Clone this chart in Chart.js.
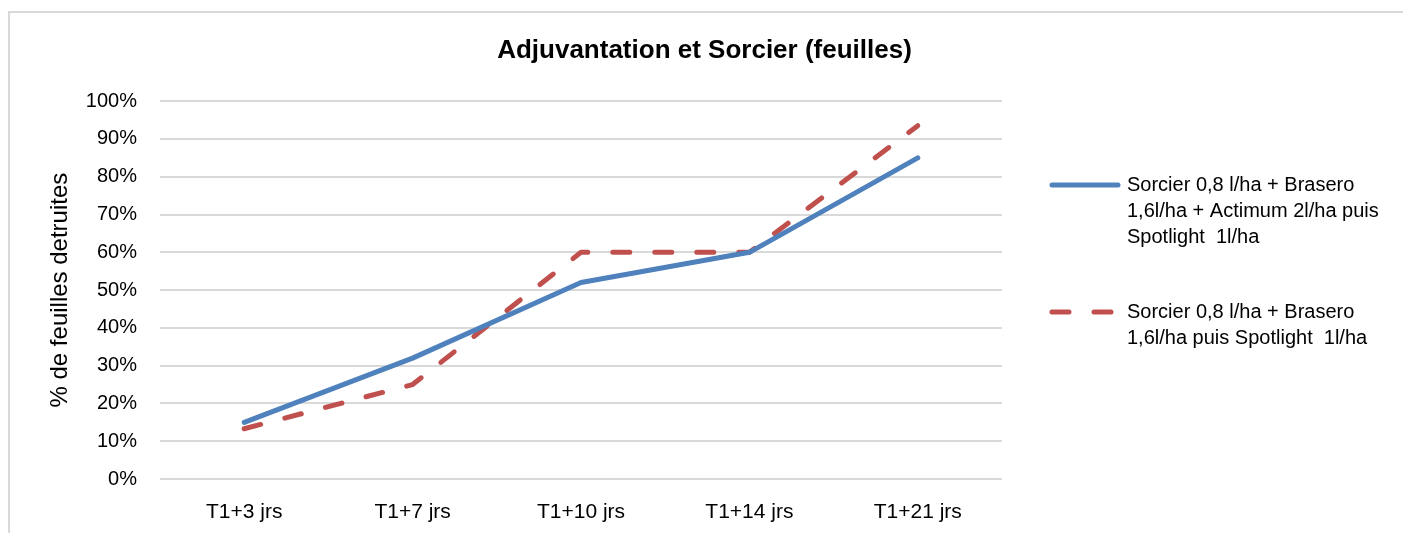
<!DOCTYPE html>
<html>
<head>
<meta charset="utf-8">
<script src="https://cdn.jsdelivr.net/npm/chart.js@4"></script>
<style>
  body { margin: 0; background: #fff; }
  #wrap { position: relative; width: 1403px; height: 533px; overflow: hidden; }
  #frame { position: absolute; left: 8px; top: 11px; width: 1500px; height: 600px;
           border-left: 2px solid #d9d9d9; border-top: 2px solid #d9d9d9; }
  #chart { position: absolute; left: 0; top: 0; }
</style>
</head>
<body>
<div id="wrap">
  <div id="frame"></div>
  <canvas id="chart" width="1403" height="533"></canvas>
</div>
<script>
// data
const categories = ['T1+3 jrs', 'T1+7 jrs', 'T1+10 jrs', 'T1+14 jrs', 'T1+21 jrs'];
const withActimum = [0.15, 0.32, 0.52, 0.60, 0.85];
const withoutActimum = [0.133, 0.25, 0.60, 0.60, 0.935];
const labelWithActimum = ['Sorcier 0,8 l/ha + Brasero', '1,6l/ha + Actimum 2l/ha puis', 'Spotlight  1l/ha'];
const labelWithoutActimum = ['Sorcier 0,8 l/ha + Brasero', '1,6l/ha puis Spotlight  1l/ha'];

const FONT = '"Liberation Sans", Arial, sans-serif';

// legend drawn on the right, with wrapped labels
const sideLegend = {
    id: 'sideLegend',
    afterDraw(chart) {
        const ctx = chart.ctx;
        const x0 = 1050, x1 = 1120, tx = 1127;
        const tops = [185, 312];
        const lineH = 26;
        ctx.save();
        ctx.font = '20px ' + FONT;
        ctx.textBaseline = 'middle';
        ctx.fillStyle = '#000';
        chart.data.datasets.forEach((ds, i) => {
            const y = tops[i];
            ctx.beginPath();
            ctx.strokeStyle = ds.borderColor;
            ctx.lineWidth = ds.borderWidth;
            ctx.lineCap = 'round';
            ctx.setLineDash(ds.borderDash || []);
            ctx.moveTo(x0 + 2, y);
            ctx.lineTo(x1 - 2, y);
            ctx.stroke();
            ctx.setLineDash([]);
            ds.legendLines.forEach((t, k) => ctx.fillText(t, tx, y + k * lineH));
        });
        ctx.restore();
    }
};

const ctx = document.getElementById('chart').getContext('2d');
new Chart(ctx, {
    type: 'line',
    data: {
        labels: categories,
        datasets: [
            {
                label: labelWithActimum.join(' '),
                legendLines: labelWithActimum,
                data: withActimum,
                borderColor: '#4f81bd',
                borderWidth: 5,
                borderCapStyle: 'round',
                borderJoinStyle: 'round',
                pointRadius: 0,
                tension: 0,
                fill: false,
            },
            {
                label: labelWithoutActimum.join(' '),
                legendLines: labelWithoutActimum,
                data: withoutActimum,
                borderColor: '#c0504d',
                borderWidth: 5,
                borderDash: [17, 25],
                borderCapStyle: 'round',
                borderJoinStyle: 'round',
                pointRadius: 0,
                tension: 0,
                fill: false,
            },
        ],
    },
    options: {
        responsive: false,
        animation: false,
        layout: { padding: { left: 6, right: 0, top: 0, bottom: 0 } },
        plugins: {
            legend: { display: false },
            tooltip: { enabled: false },
            title: {
                display: true,
                text: 'Adjuvantation et Sorcier (feuilles)',
                color: '#000',
                font: { family: FONT, size: 26, weight: 'bold' },
                padding: { top: 35, bottom: 35 },
            },
        },
        scales: {
            x: {
                offset: true,
                grid: { display: false },
                border: { display: false },
                ticks: {
                    color: '#000',
                    font: { family: FONT, size: 21 },
                    padding: 13,
                    maxRotation: 0,
                },
                afterFit(scale) { scale.height = 54; },
            },
            y: {
                min: 0,
                max: 1,
                border: { display: false },
                grid: { color: '#d9d9d9', lineWidth: 2, drawTicks: false },
                ticks: {
                    stepSize: 0.1,
                    color: '#000',
                    font: { family: FONT, size: 20 },
                    padding: 23,
                    callback: v => Math.round(v * 100) + '%',
                },
                title: {
                    display: true,
                    text: '% de feuilles detruites',
                    color: '#000',
                    font: { family: FONT, size: 24 },
                    padding: { top: 40, bottom: 0 },
                },
                afterFit(scale) { scale.width = 154; },
            },
            // empty axis that keeps room for the legend on the right
            side: {
                position: 'right',
                display: true,
                grid: { display: false },
                border: { display: false },
                ticks: { display: false },
                afterFit(scale) { scale.width = 401; },
            },
        },
    },
    plugins: [sideLegend],
});
</script>
</body>
</html>
